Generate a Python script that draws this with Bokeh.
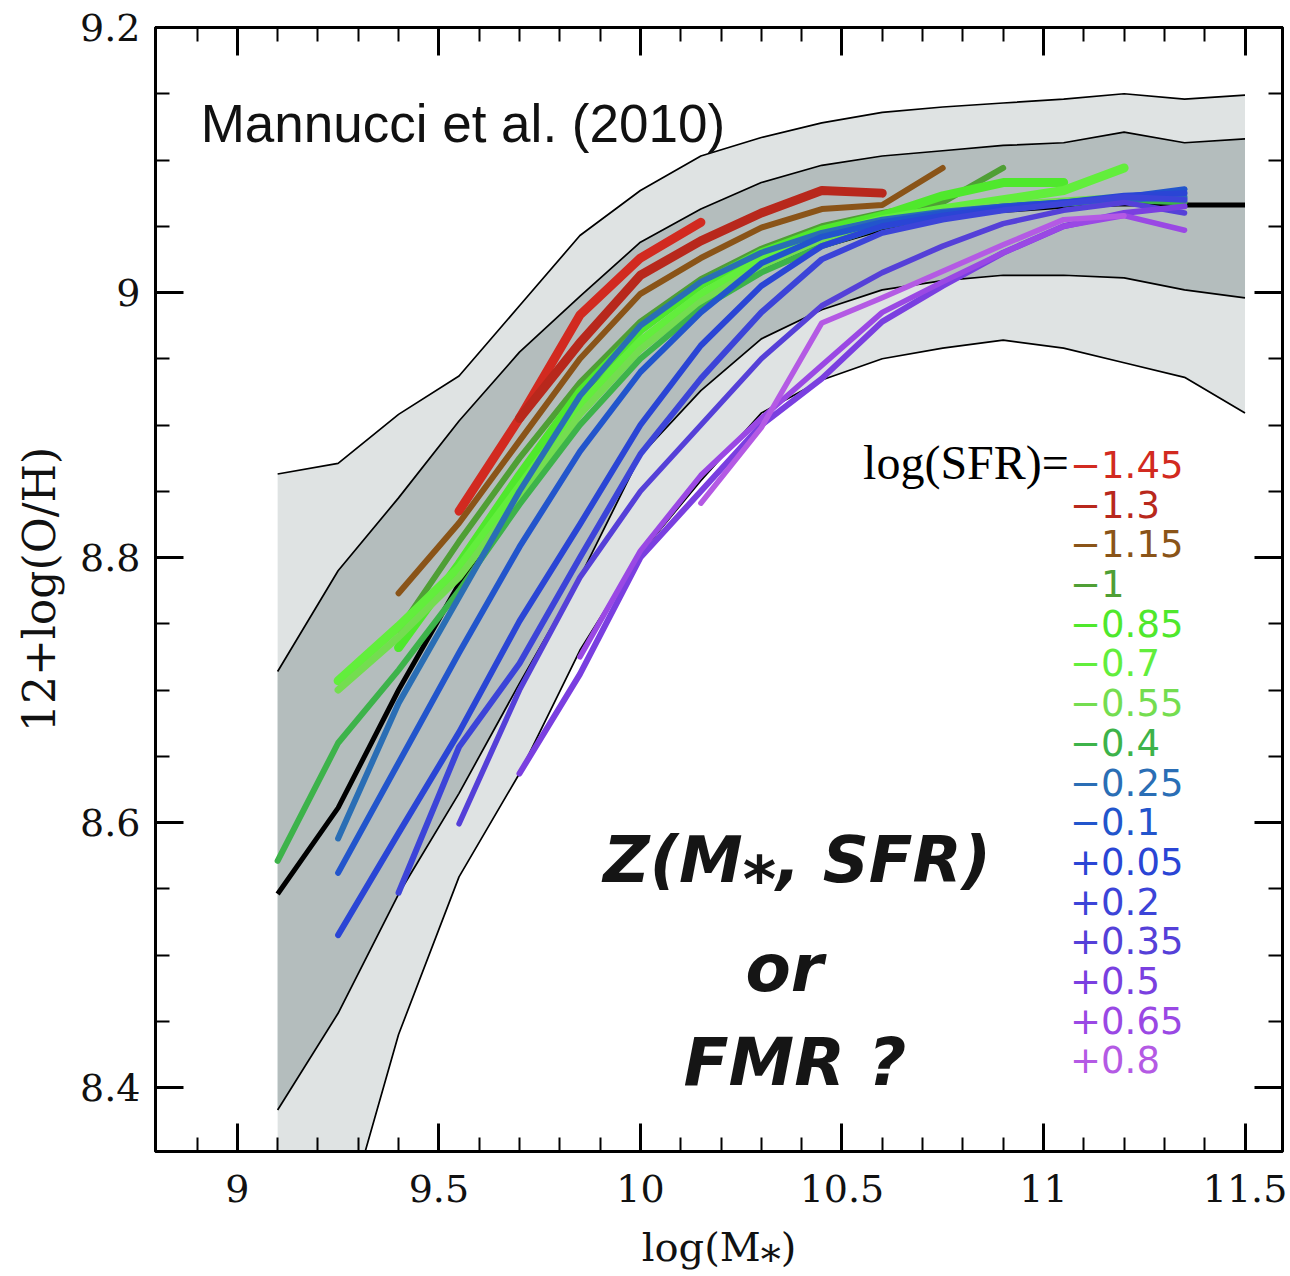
from bokeh.plotting import figure
from bokeh.models import (ColumnDataSource, LinearAxis, FixedTicker,
                          CustomJSTickFormatter, Range1d)
from bokeh.core.properties import value
from bokeh.embed import file_html
from bokeh.resources import INLINE

# ---------------- data ----------------
mass_bins = [9.1, 9.25, 9.4, 9.55, 9.7, 9.85, 10.0, 10.15, 10.3, 10.45,
             10.6, 10.75, 10.9, 11.05, 11.2, 11.35, 11.5]

band_outer_upper = [8.863, 8.871, 8.908, 8.937, 8.990, 9.043, 9.077, 9.103, 9.117,
                    9.128, 9.136, 9.140, 9.143, 9.146, 9.150, 9.146, 9.149]
band_inner_upper = [8.714, 8.790, 8.845, 8.903, 8.955, 8.997, 9.038, 9.063, 9.083,
                    9.096, 9.103, 9.107, 9.111, 9.113, 9.121, 9.113, 9.116]
median_z = [8.546, 8.611, 8.700, 8.780, 8.848, 8.920, 8.960, 8.992, 9.016,
            9.035, 9.048, 9.057, 9.062, 9.065, 9.067, 9.066, 9.066]
band_inner_lower = [8.383, 8.456, 8.546, 8.622, 8.705, 8.785, 8.877, 8.926, 8.965,
                    8.987, 9.002, 9.009, 9.013, 9.013, 9.011, 9.002, 8.996]
band_outer_lower = [8.120, 8.280, 8.440, 8.559, 8.637, 8.730, 8.803, 8.858, 8.909,
                    8.934, 8.950, 8.958, 8.964, 8.958, 8.947, 8.936, 8.909]

sfr_labels = ["\u22121.45", "\u22121.3", "\u22121.15", "\u22121", "\u22120.85",
              "\u22120.7", "\u22120.55", "\u22120.4", "\u22120.25", "\u22120.1",
              "+0.05", "+0.2", "+0.35", "+0.5", "+0.65", "+0.8"]
sfr_colors = ["#d22a20", "#b8281c", "#8a5418", "#4f9f35", "#4fe82c", "#62ee3c",
              "#74dd50", "#3db34a", "#2a6eb5", "#2255cc", "#2a45d5", "#3c44d8",
              "#5540d8", "#7a3fe0", "#9a48e4", "#b45ae4"]
sfr_widths = [9, 9, 6, 6, 9, 9, 7, 6, 6, 6, 6, 6, 5.5, 6, 5.5, 5.5]

# first mass bin of each curve and its metallicity values
start_m145 = 9.55
z_m145 = [8.835, 8.905, 8.983, 9.026, 9.053]
start_m130 = 9.7
z_m130 = [8.905, 8.962, 9.013, 9.039, 9.060, 9.077, 9.075]
start_m115 = 9.4
z_m115 = [8.773, 8.826, 8.888, 8.950, 8.999, 9.026, 9.049, 9.063, 9.066, 9.094]
start_m100 = 9.4
z_m100 = [8.745, 8.812, 8.875, 8.932, 8.978, 9.010, 9.033, 9.050, 9.060, 9.068, 9.094]
start_m085 = 9.4
z_m085 = [8.732, 8.795, 8.862, 8.925, 8.972, 9.006, 9.030, 9.047, 9.058, 9.073,
          9.083, 9.083]
start_m070 = 9.25
z_m070 = [8.707, 8.748, 8.792, 8.853, 8.915, 8.963, 8.998, 9.025, 9.043, 9.055,
          9.063, 9.070, 9.077, 9.094]
start_m055 = 9.25
z_m055 = [8.700, 8.740, 8.785, 8.845, 8.908, 8.957, 8.993, 9.020, 9.040, 9.053,
          9.061, 9.066, 9.069, 9.072]
start_m040 = 9.1
z_m040 = [8.571, 8.660, 8.715, 8.775, 8.840, 8.900, 8.950, 8.988, 9.015, 9.035,
          9.050, 9.058, 9.064, 9.067, 9.070, 9.068]
start_m025 = 9.25
z_m025 = [8.588, 8.690, 8.770, 8.850, 8.922, 8.975, 9.008, 9.030, 9.045, 9.055,
          9.061, 9.065, 9.068, 9.070, 9.072]
start_m010 = 9.25
z_m010 = [8.562, 8.645, 8.728, 8.808, 8.880, 8.940, 8.985, 9.022, 9.042, 9.053,
          9.060, 9.065, 9.068, 9.072, 9.078]
start_p005 = 9.25
z_p005 = [8.515, 8.592, 8.668, 8.752, 8.825, 8.900, 8.960, 9.005, 9.035, 9.050,
          9.058, 9.064, 9.068, 9.073, 9.075]
start_p020 = 9.4
z_p020 = [8.547, 8.657, 8.720, 8.800, 8.878, 8.935, 8.985, 9.025, 9.045, 9.055,
          9.062, 9.067, 9.072, 9.070]
start_p035 = 9.55
z_p035 = [8.599, 8.700, 8.785, 8.850, 8.900, 8.950, 8.990, 9.015, 9.035, 9.052,
          9.062, 9.068, 9.060]
start_p050 = 9.7
z_p050 = [8.637, 8.712, 8.800, 8.850, 8.900, 8.935, 8.978, 9.005, 9.030, 9.050,
          9.060, 9.065]
start_p065 = 9.85
z_p065 = [8.725, 8.805, 8.862, 8.905, 8.945, 8.985, 9.008, 9.030, 9.050, 9.058, 9.047]
start_p080 = 10.15
z_p080 = [8.841, 8.898, 8.977, 8.996, 9.016, 9.036, 9.055, 9.058]

x_ticks = [9, 9.5, 10, 10.5, 11, 11.5]
y_ticks = [8.4, 8.6, 8.8, 9.0, 9.2]

curves = [(start_m145, z_m145), (start_m130, z_m130), (start_m115, z_m115),
          (start_m100, z_m100), (start_m085, z_m085), (start_m070, z_m070),
          (start_m055, z_m055), (start_m040, z_m040), (start_m025, z_m025),
          (start_m010, z_m010), (start_p005, z_p005), (start_p020, z_p020),
          (start_p035, z_p035), (start_p050, z_p050), (start_p065, z_p065),
          (start_p080, z_p080)]

# ---------------- figure ----------------
p = figure(width=1290, height=1276, output_backend="svg", toolbar_location=None,
           x_range=Range1d(8.797, 11.593), y_range=Range1d(8.3517, 9.2),
           min_border_left=155, min_border_right=8, min_border_top=27,
           min_border_bottom=125)
p.xgrid.visible = False
p.ygrid.visible = False
p.background_fill_color = "white"
p.border_fill_color = "white"
p.outline_line_color = "black"
p.outline_line_width = 3

# bands
p.patch(mass_bins + mass_bins[::-1], band_outer_upper + band_outer_lower[::-1],
        fill_color="#dfe3e3", line_color=None)
p.patch(mass_bins + mass_bins[::-1], band_inner_upper + band_inner_lower[::-1],
        fill_color="#b4bdbd", line_color=None)
for b in (band_outer_upper, band_inner_upper, band_inner_lower, band_outer_lower):
    p.line(mass_bins, b, line_color="black", line_width=1.7)
p.line(mass_bins, median_z, line_color="black", line_width=5)

# SFR curves
for (start, z), col, w in zip(curves, sfr_colors, sfr_widths):
    i0 = mass_bins.index(start)
    xs = mass_bins[i0:i0 + len(z)]
    p.line(xs, z, line_color=col, line_width=w, line_join="round", line_cap="round")

# legend texts
leg_y = [8.8702 - 0.02996 * i for i in range(len(sfr_labels))]
leg_src = ColumnDataSource(dict(x=[11.066] * len(sfr_labels), y=leg_y,
                                t=sfr_labels, c=sfr_colors))
p.text(x="x", y="y", text="t", text_color="c", source=leg_src,
       text_font=value("DejaVu Sans"), text_font_size=value("37px"),
       text_baseline="alphabetic", text_align="left")
p.text(x=[11.063], y=[8.8717], text=["log(SFR)="], text_color="black",
       text_font=value("Liberation Serif"), text_font_size=value("48px"),
       text_baseline="alphabetic", text_align="right")

p.text(x=[8.909], y=[9.1276], text=["Mannucci et al. (2010)"], text_color="#111111",
       text_font=value("Liberation Sans"), text_font_size=value("53px"),
       text_baseline="alphabetic", text_align="left")

big = dict(text_color="#151515", text_font=value("DejaVu Sans"),
           text_font_style=value("bold italic"), text_baseline="alphabetic",
           text_align="left")
p.text(x=[9.908], y=[8.5715], text=["Z(M\u204e, SFR)"], text_font_size=value("64px"), **big)
p.text(x=[10.2606], y=[8.4898], text=["or"], text_font_size=value("66px"), **big)
p.text(x=[10.1067], y=[8.4188], text=["FMR ?"], text_font_size=value("66px"), **big)

# ---------------- axes ----------------
fmt = CustomJSTickFormatter(code="return (Math.round(tick*10)/10).toString();")
blank = CustomJSTickFormatter(code="return '';")
x_minor = [round(8.9 + 0.1 * i, 2) for i in range(27)]
y_minor = [round(8.35 + 0.05 * i, 3) for i in range(18)]


def style(ax, ticks, minor, labels):
    ax.ticker = FixedTicker(ticks=ticks, minor_ticks=minor)
    ax.major_tick_in = 28
    ax.major_tick_out = 0
    ax.minor_tick_in = 14
    ax.minor_tick_out = 0
    ax.major_tick_line_width = 3
    ax.minor_tick_line_width = 2
    ax.major_tick_line_color = "black"
    ax.minor_tick_line_color = "black"
    ax.axis_line_width = 3
    ax.axis_line_color = "black"
    if labels:
        ax.formatter = fmt
        ax.major_label_text_font = "DejaVu Serif"
        ax.major_label_text_font_size = "38px"
        ax.major_label_text_color = "#111111"
        ax.axis_label_text_font = "DejaVu Serif"
        ax.axis_label_text_font_size = "40px"
        ax.axis_label_text_font_style = "normal"
        ax.axis_label_text_color = "#111111"
    else:
        ax.formatter = blank
        ax.major_label_text_font_size = "0px"
        ax.major_label_standoff = 0


xb = p.xaxis[0]
yl = p.yaxis[0]
style(xb, x_ticks, x_minor, True)
style(yl, y_ticks, y_minor, True)
xb.major_label_standoff = 23
yl.major_label_standoff = 15
yl.axis_label = "12+log(O/H)"
yl.axis_label_text_font_size = "44px"
yl.axis_label_standoff = 12
xb.axis_label = "log(M\u204e)"
xb.axis_label_standoff = 19

xa = LinearAxis()
style(xa, x_ticks, x_minor, False)
p.add_layout(xa, "above")
yr = LinearAxis()
style(yr, y_ticks, y_minor, False)
p.add_layout(yr, "right")

open("out.html", "w").write(file_html(p, INLINE))
